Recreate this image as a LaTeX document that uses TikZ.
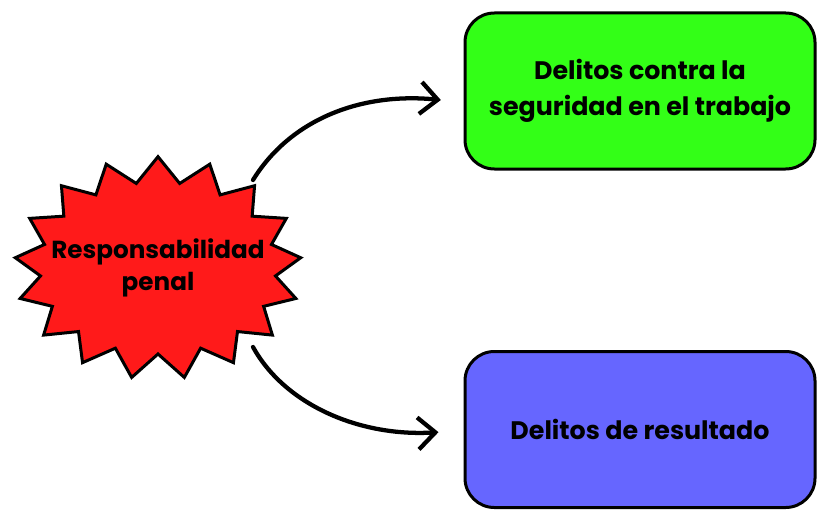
\documentclass[tikz,border=0pt]{standalone}
\usepackage{fontspec}
\setmainfont{Poppins}
\usetikzlibrary{shapes.symbols,arrows.meta}
\definecolor{burstred}{HTML}{FF1A1A}
\definecolor{boxgreen}{HTML}{33FF17}
\definecolor{boxblue}{HTML}{6666FF}

\begin{document}
\begin{tikzpicture}[x=0.75pt,y=-0.75pt,
    box/.style={draw,line width=2.25pt,rounded corners=22pt,minimum width=262.5pt,
      minimum height=117pt,align=center,font=\fontsize{19}{26.5}\selectfont\bfseries},
    arr/.style={line width=3.2pt,line cap=round,
      -{Straight Barb[length=13pt,width=24pt,line width=3.2pt]}}]

     \useasboundingbox (0,0) rectangle (830,524);

     %Burst
     \node[starburst,starburst points=17,random starburst=0,starburst point height=19pt,
       minimum width=215pt,minimum height=167pt,draw,line width=2.25pt,fill=burstred]
       (burst) at (158,268) {};
     \node[align=center,font=\fontsize{18.5}{24}\selectfont\bfseries] (resp) at (burst)
       {Responsabilidad\\penal};

     %Boxes
     \node[box,fill=boxgreen] (seg) at (640,91) {Delitos contra la\\seguridad en el trabajo};
     \node[box,fill=boxblue] (res) at (640,429.5) {Delitos de resultado};

     %Arrows
     \coordinate (s1) at (253,180);
     \coordinate (s2) at (253,347);
     \draw[arr] (s1) .. controls (290,120) and (360,92) .. ([xshift=-17pt,yshift=-6.75pt]seg.west);
     \draw[arr] (s2) .. controls (285,405) and (360,437) .. ([xshift=-18.75pt,yshift=-2pt]res.west);

\end{tikzpicture}
\end{document}
